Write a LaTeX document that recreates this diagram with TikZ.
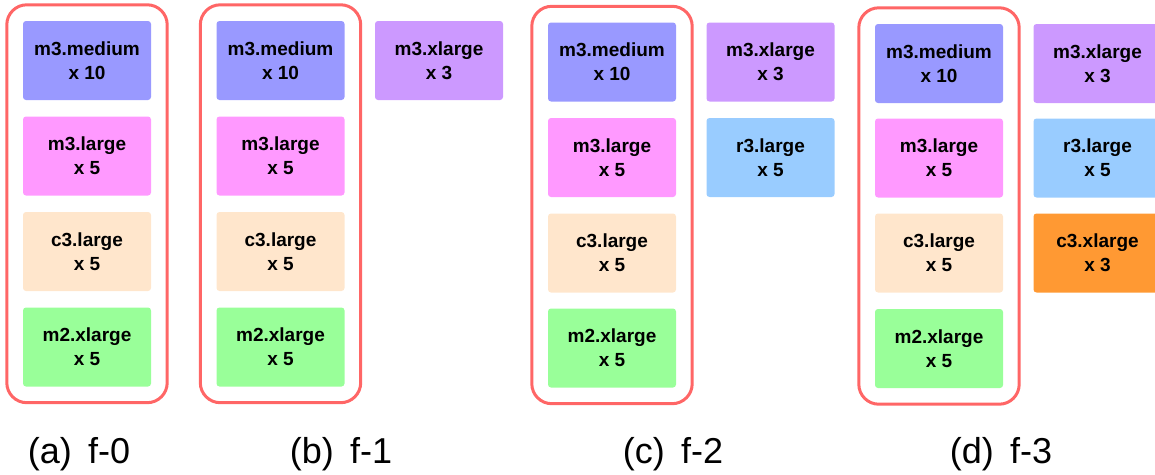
\documentclass[tikz,border=0pt]{standalone}
\usepackage{fontspec}
\setmainfont{Liberation Sans}
\usetikzlibrary{fit}
\definecolor{cmed}{HTML}{9999FF}
\definecolor{clarge}{HTML}{FF99FF}
\definecolor{cclarge}{HTML}{FFE6CC}
\definecolor{cmtwo}{HTML}{99FF99}
\definecolor{cmx}{HTML}{CC99FF}
\definecolor{cr}{HTML}{99CCFF}
\definecolor{ccx}{HTML}{FF9933}
\definecolor{cframe}{HTML}{FF6666}
\tikzset{
  inst/.style={fill=#1, draw=none, rounded corners=3pt, minimum width=128pt, minimum height=79pt,
    inner sep=0pt, align=center, font=\fontsize{19}{24}\selectfont\bfseries},
  grp/.style={draw=cframe, line width=3pt, rounded corners=20pt, inner sep=16pt},
  sublabel/.style={anchor=base, font=\fontsize{36}{40}\selectfont, inner sep=0pt}
}
\begin{document}
\begin{tikzpicture}[x=1pt,y=-1pt]
\useasboundingbox (0,0) rectangle (1155,474);
% (a)
\node[inst=cmed] (a1) at (87,60.5) {m3.medium\\x 10};
\node[inst=clarge] (a2) at (87,156) {m3.large\\x 5};
\node[inst=cclarge] (a3) at (87,251.5) {c3.large\\x 5};
\node[inst=cmtwo] (a4) at (87,347) {m2.xlarge\\x 5};
\node[grp, fit=(a1)(a4)] (ga) {};
\node[sublabel] (la) at (79,463) {(a)\hspace{0.45em}f-0};
% (b)
\node[inst=cmed] (b1) at (280.5,60.5) {m3.medium\\x 10};
\node[inst=clarge] (b2) at (280.5,156) {m3.large\\x 5};
\node[inst=cclarge] (b3) at (280.5,251.5) {c3.large\\x 5};
\node[inst=cmtwo] (b4) at (280.5,347) {m2.xlarge\\x 5};
\node[grp, fit=(b1)(b4)] (gb) {};
\node[inst=cmx] (b5) at (439,60.5) {m3.xlarge\\x 3};
\node[sublabel] (lb) at (341,463) {(b)\hspace{0.45em}f-1};
% (c)
\node[inst=cmed] (c1) at (612,62) {m3.medium\\x 10};
\node[inst=clarge] (c2) at (612,157.5) {m3.large\\x 5};
\node[inst=cclarge] (c3) at (612,253) {c3.large\\x 5};
\node[inst=cmtwo] (c4) at (612,348) {m2.xlarge\\x 5};
\node[grp, fit=(c1)(c4)] (gc) {};
\node[inst=cmx] (c5) at (770.5,62) {m3.xlarge\\x 3};
\node[inst=cr] (c6) at (770.5,157.5) {r3.large\\x 5};
\node[sublabel] (lc) at (673,463) {(c)\hspace{0.45em}f-2};
% (d)
\node[inst=cmed] (d1) at (939,63.5) {m3.medium\\x 10};
\node[inst=clarge] (d2) at (939,158) {m3.large\\x 5};
\node[inst=cclarge] (d3) at (939,253) {c3.large\\x 5};
\node[inst=cmtwo] (d4) at (939,348.5) {m2.xlarge\\x 5};
\node[grp, fit=(d1)(d4)] (gd) {};
\node[inst=cmx] (d5) at (1097.5,63.5) {m3.xlarge\\x 3};
\node[inst=cr] (d6) at (1097.5,158) {r3.large\\x 5};
\node[inst=ccx] (d7) at (1097.5,253) {c3.xlarge\\x 3};
\node[sublabel] (ld) at (1001,463) {(d)\hspace{0.45em}f-3};
\end{tikzpicture}
\end{document}
